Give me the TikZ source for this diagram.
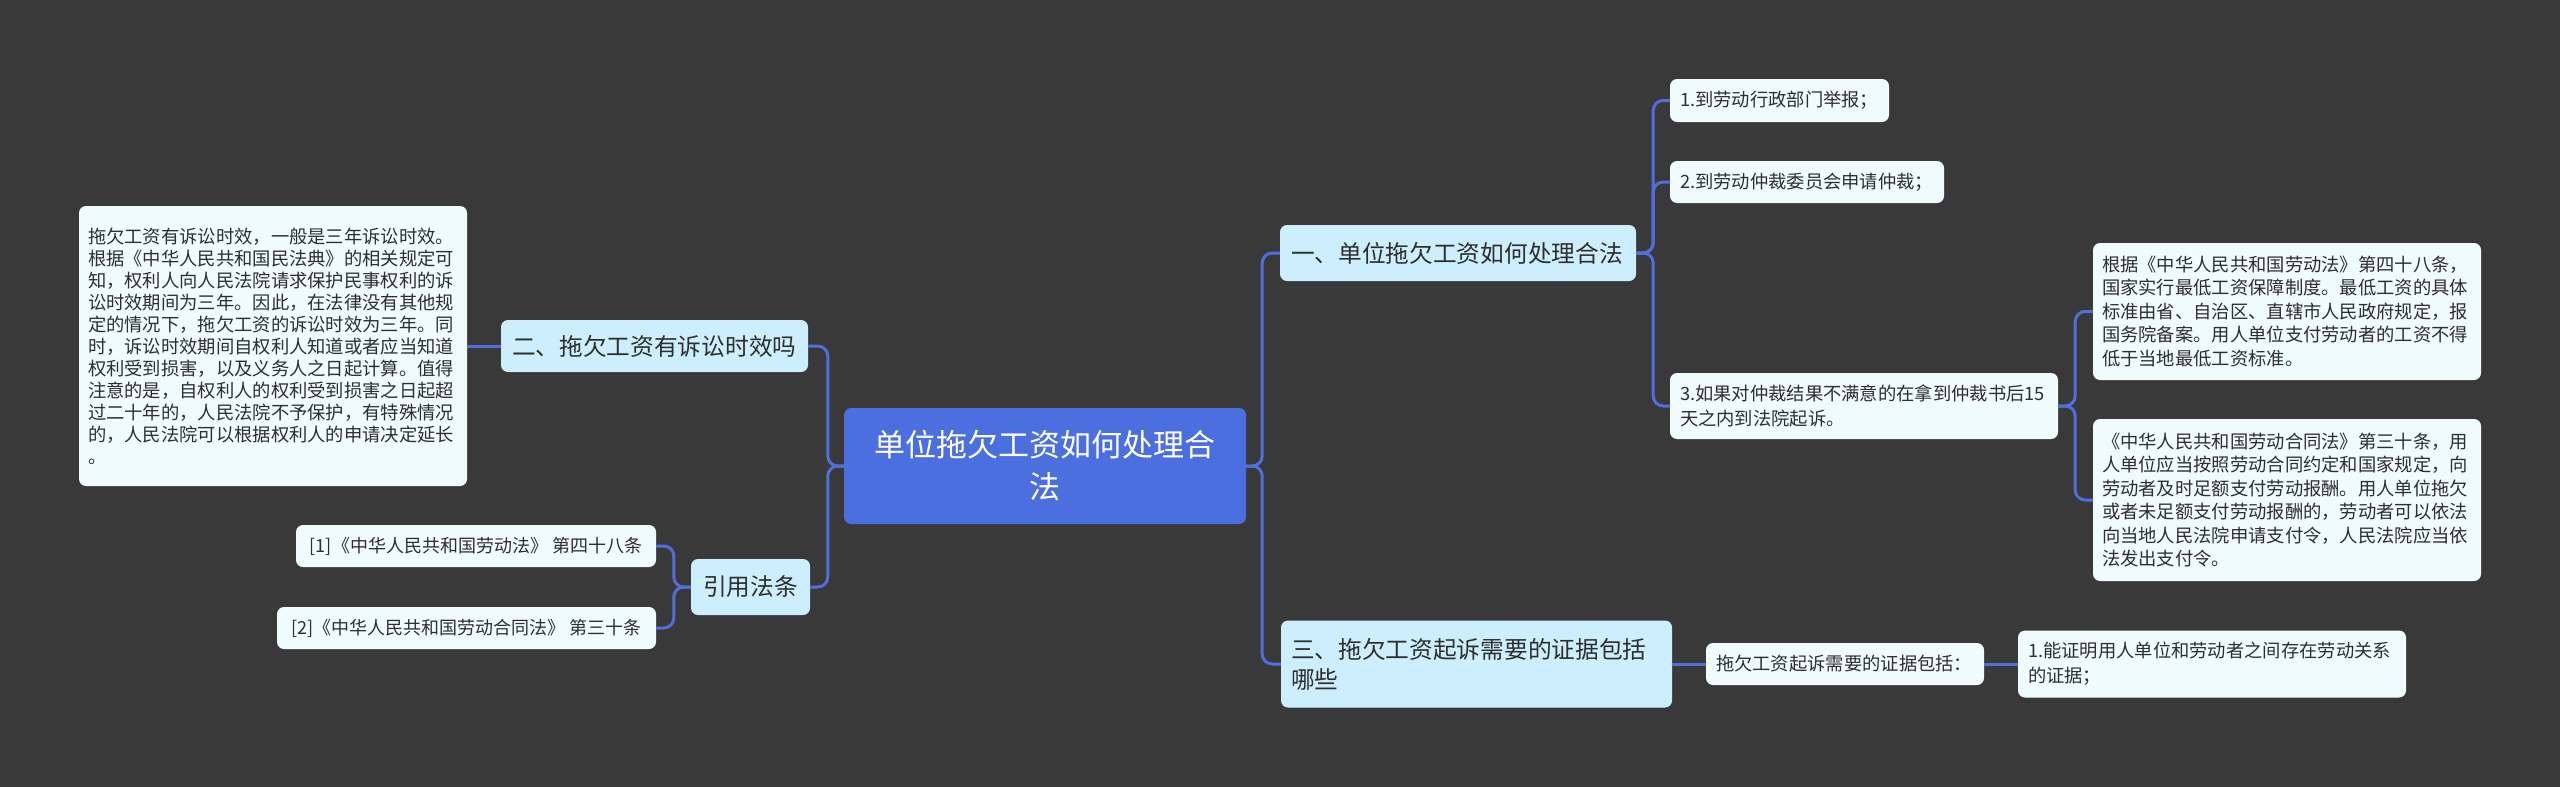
\documentclass[tikz,border=0pt]{standalone}
\usepackage{fontspec}
\setmainfont{Noto Sans CJK SC}
\definecolor{bg}{HTML}{3A3939}
\definecolor{linkc}{HTML}{506FDC}
\definecolor{rootc}{HTML}{4C6FE0}
\definecolor{lvone}{HTML}{CDEFFD}
\definecolor{leafc}{HTML}{F0FBFE}
\definecolor{txt}{HTML}{2E2E2E}
\tikzset{
  boxbase/.style={rounded corners=7, inner ysep=0pt, text=txt},
  rootbox/.style={boxbase, fill=rootc, text=white, align=center, inner xsep=10pt,
    font=\fontsize{31}{42}\selectfont},
  onebox/.style={boxbase, fill=lvone, align=left, inner xsep=11pt,
    font=\fontsize{23.7}{30}\selectfont},
  leafbox/.style={boxbase, fill=leafc, align=left, inner xsep=10pt,
    font=\fontsize{18.3}{23.5}\selectfont},
  link/.style={draw=linkc, line width=3pt, rounded corners=10pt},
}
\begin{document}
\begin{tikzpicture}[x=1pt,y=-1pt]
\fill[bg] (0,0) rectangle (2560,787);
\useasboundingbox (0,0) rectangle (2560,787);

% root
\node[rootbox, minimum width=402, minimum height=116, text width=382] (root) at (1045,466)
  {单位拖欠工资如何处理合\\法};

% left side
\node[onebox, minimum width=307, minimum height=52, text width=285] (two) at (654.5,346)
  {二、拖欠工资有诉讼时效吗};
\node[leafbox, minimum width=388, minimum height=280, text width=370, inner xsep=9pt,
  font=\fontsize{18.3}{22}\selectfont] (twotext) at (273,346)
  {拖欠工资有诉讼时效，一般是三年诉讼时效。\\
   根据《中华人民共和国民法典》的相关规定可\\
   知，权利人向人民法院请求保护民事权利的诉\\
   讼时效期间为三年。因此，在法律没有其他规\\
   定的情况下，拖欠工资的诉讼时效为三年。同\\
   时，诉讼时效期间自权利人知道或者应当知道\\
   权利受到损害，以及义务人之日起计算。值得\\
   注意的是，自权利人的权利受到损害之日起超\\
   过二十年的，人民法院不予保护，有特殊情况\\
   的，人民法院可以根据权利人的申请决定延长\\
   。};

\node[onebox, minimum width=119, minimum height=56, inner xsep=5pt, align=center] (cite) at (750.5,587)
  {引用法条};
\node[leafbox, minimum width=360, minimum height=42, inner xsep=8pt, align=center,
  font=\fontsize{18}{22}\selectfont] (citeone) at (476,546)
  {[1]《中华人民共和国劳动法》~第四十八条};
\node[leafbox, minimum width=379, minimum height=42, inner xsep=8pt, align=center,
  font=\fontsize{18}{22}\selectfont] (citetwo) at (466.5,628)
  {[2]《中华人民共和国劳动合同法》~第三十条};

% right side, branch one
\node[onebox, minimum width=356, minimum height=56, text width=334] (one) at (1458,253)
  {一、单位拖欠工资如何处理合法};
\node[leafbox, minimum width=219, minimum height=43, text width=199] (aone) at (1779.5,100.5)
  {1.到劳动行政部门举报；};
\node[leafbox, minimum width=274, minimum height=42, text width=254] (atwo) at (1807,182)
  {2.到劳动仲裁委员会申请仲裁；};
\node[leafbox, minimum width=388, minimum height=66, text width=368, font=\fontsize{18.3}{24.5}\selectfont] (athree) at (1864,406)
  {3.如果对仲裁结果不满意的在拿到仲裁书后15\\天之内到法院起诉。};
\node[leafbox, minimum width=388, minimum height=137, text width=370, inner xsep=9pt] (lawone) at (2287,311.5)
  {根据《中华人民共和国劳动法》第四十八条，\\
   国家实行最低工资保障制度。最低工资的具体\\
   标准由省、自治区、直辖市人民政府规定，报\\
   国务院备案。用人单位支付劳动者的工资不得\\
   低于当地最低工资标准。};
\node[leafbox, minimum width=388, minimum height=162, text width=370, inner xsep=9pt] (lawtwo) at (2287,500)
  {《中华人民共和国劳动合同法》第三十条，用\\
   人单位应当按照劳动合同约定和国家规定，向\\
   劳动者及时足额支付劳动报酬。用人单位拖欠\\
   或者未足额支付劳动报酬的，劳动者可以依法\\
   向当地人民法院申请支付令，人民法院应当依\\
   法发出支付令。};

% right side, branch three
\node[onebox, minimum width=391, minimum height=87, text width=371, inner xsep=10pt] (three) at (1476.5,664)
  {三、拖欠工资起诉需要的证据包括\\哪些};
\node[leafbox, minimum width=278, minimum height=42, text width=258] (eone) at (1845,664)
  {拖欠工资起诉需要的证据包括：};
\node[leafbox, minimum width=388, minimum height=67, text width=368, font=\fontsize{18.3}{25}\selectfont] (etwo) at (2212,664)
  {1.能证明用人单位和劳动者之间存在劳动关系\\的证据；};

% connectors
\draw[link] (root.east) -- ++(16,0) |- (one.west);
\draw[link] (root.east) -- ++(16,0) |- (three.west);
\draw[link] (root.west) -- ++(-16,0) |- (two.east);
\draw[link] (root.west) -- ++(-16,0) |- (cite.east);
\draw[link] (two.west) -- (twotext.east);
\draw[link] (cite.west) -- ++(-17,0) |- (citeone.east);
\draw[link] (cite.west) -- ++(-17,0) |- (citetwo.east);
\draw[link] (one.east) -- ++(17,0) |- (aone.west);
\draw[link] (one.east) -- ++(17,0) |- (atwo.west);
\draw[link] (one.east) -- ++(17,0) |- (athree.west);
\draw[link] (athree.east) -- ++(17,0) |- (lawone.west);
\draw[link] (athree.east) -- ++(17,0) |- (lawtwo.west);
\draw[link] (three.east) -- (eone.west);
\draw[link] (eone.east) -- (etwo.west);
\end{tikzpicture}
\end{document}
